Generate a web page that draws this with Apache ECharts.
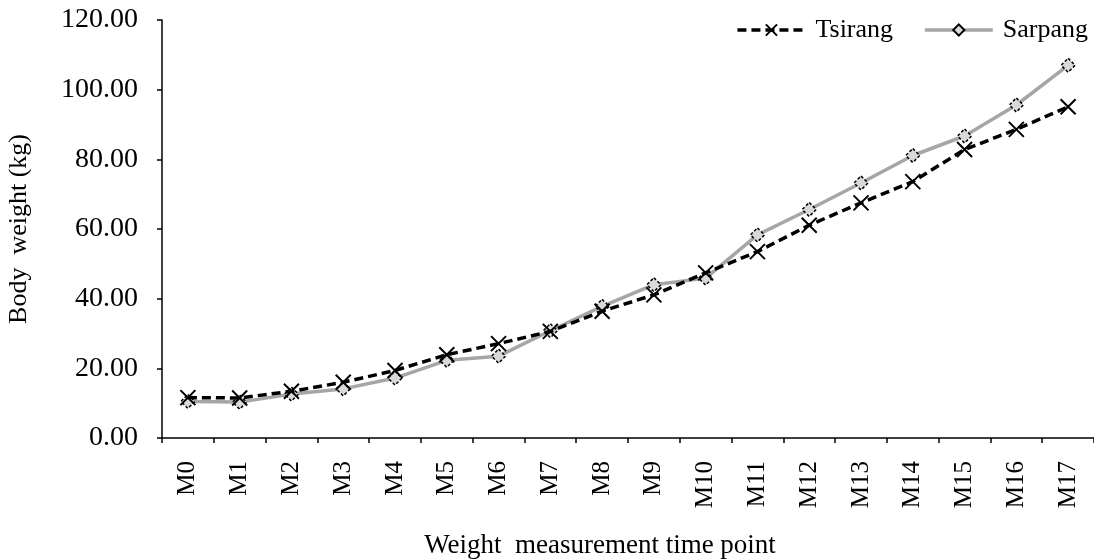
<!DOCTYPE html>
<html>
<head>
<meta charset="utf-8">
<script src="https://cdn.jsdelivr.net/npm/echarts@6/dist/echarts.min.js"></script>
<style>html,body{margin:0;padding:0;background:#fff}#c{width:1094px;height:559px}</style>
</head>
<body>
<div id="c"></div>
<script>
const categories = ['M0','M1','M2','M3','M4','M5','M6','M7','M8','M9','M10','M11','M12','M13','M14','M15','M16','M17'];
const tsirang = [11.6, 11.5, 13.4, 16.0, 19.4, 23.9, 27.1, 30.6, 36.4, 41.1, 47.4, 53.5, 61.1, 67.5, 73.6, 82.8, 88.6, 95.1];
const sarpang = [10.5, 10.3, 12.6, 14.1, 17.2, 22.3, 23.5, 30.8, 37.8, 44.0, 45.9, 58.3, 65.6, 73.2, 81.1, 86.7, 95.6, 107.0];
const yTicks = [0, 20, 40, 60, 80, 100, 120];

const font = 'Liberation Serif';
const chart = echarts.init(document.getElementById('c'));
chart.setOption({
  animation: false,
  backgroundColor: '#fff',
  textStyle: { fontFamily: font, color: '#000' },
  legend: {
    top: 12, right: 1,
    itemWidth: 68, itemHeight: 14, itemGap: 30,
    lineStyle: { width: 3.5 },
    textStyle: { fontFamily: font, fontSize: 26, color: '#000', padding: [0, 0, 0, 5] },
    data: ['Tsirang', 'Sarpang']
  },
  grid: { left: 162, right: 0, top: 20, bottom: 121, containLabel: false, outerBoundsMode: 'none' },
  xAxis: {
    type: 'category',
    data: categories,
    boundaryGap: true,
    name: 'Weight  measurement time point',
    nameLocation: 'middle',
    nameGap: 94,
    nameTextStyle: { fontFamily: font, fontSize: 27, color: '#000', padding: [0, 56, 0, 0] },
    axisLine: { lineStyle: { color: '#000', width: 1.5 } },
    axisTick: { show: true, length: 5, alignWithLabel: false, lineStyle: { color: '#000', width: 1.5 } },
    axisLabel: { rotate: 90, margin: 23, fontFamily: font, fontSize: 25, color: '#000', interval: 0 },
    splitLine: { show: false }
  },
  yAxis: {
    type: 'value',
    min: yTicks[0], max: yTicks[yTicks.length - 1], interval: 20,
    name: 'Body  weight (kg)',
    nameLocation: 'middle',
    nameGap: 130,
    nameRotate: 90,
    nameTextStyle: { fontFamily: font, fontSize: 26, color: '#000' },
    axisLine: { show: true, lineStyle: { color: '#000', width: 1.5 } },
    axisTick: { show: true, length: 5, lineStyle: { color: '#000', width: 1.5 } },
    axisLabel: { margin: 24, fontFamily: font, fontSize: 28, color: '#000', formatter: v => v.toFixed(2) },
    splitLine: { show: false }
  },
  series: [
    {
      name: 'Tsirang',
      type: 'line',
      data: tsirang,
      symbol: 'path://M0,0 L10,10 M10,0 L0,10',
      symbolSize: 15,
      lineStyle: { color: '#000', width: 3.5, type: [9, 5] },
      itemStyle: { color: 'none', borderColor: '#000', borderWidth: 2 },
      z: 3
    },
    {
      name: 'Sarpang',
      type: 'line',
      data: sarpang,
      symbol: 'diamond',
      symbolSize: 14,
      lineStyle: { color: '#a6a6a6', width: 3.5 },
      itemStyle: { color: '#d9d9d9', borderColor: '#000', borderWidth: 1.5, borderType: [3, 2] },
      z: 2
    }
  ]
});
</script>
</body>
</html>
